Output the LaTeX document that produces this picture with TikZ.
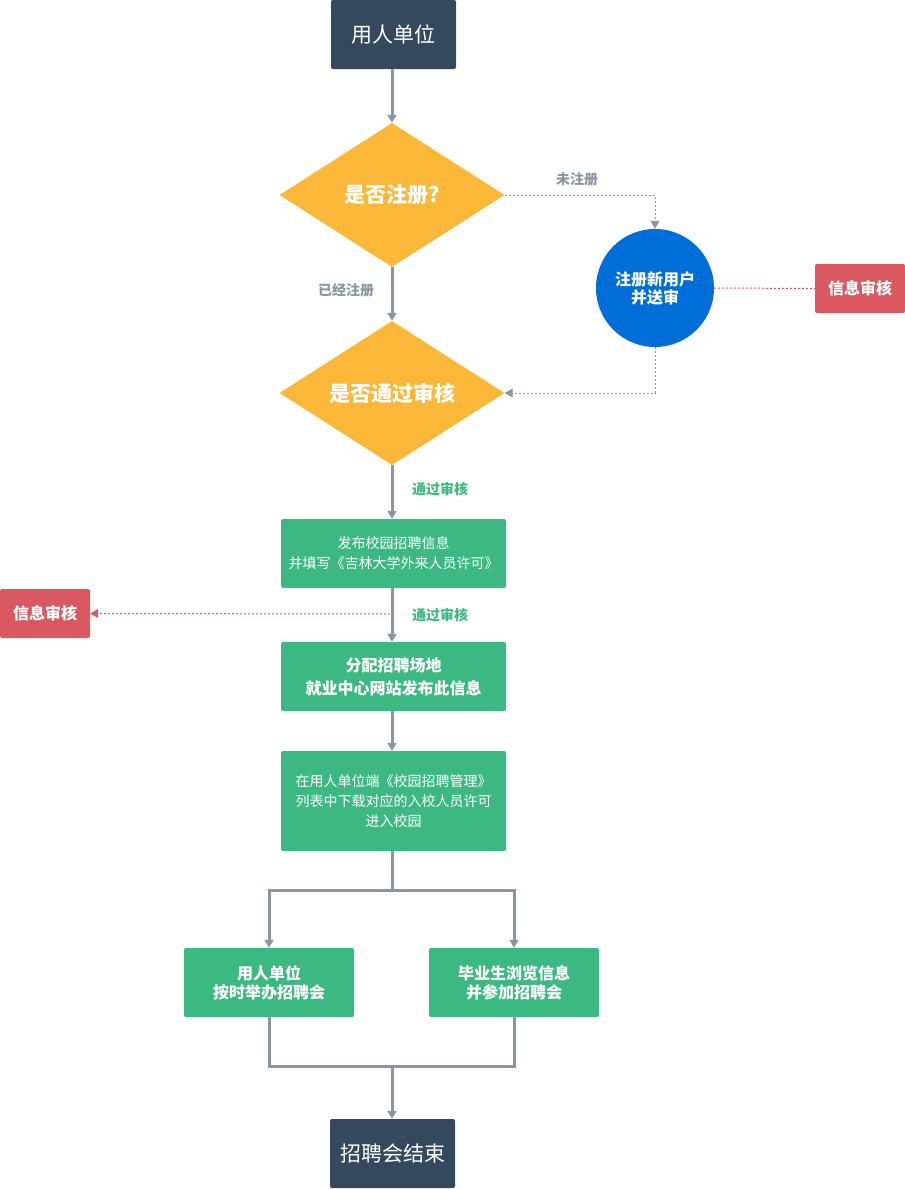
\documentclass[tikz,border=0pt]{standalone}
\usepackage{fontspec}
\setmainfont{Noto Sans CJK SC}
\usetikzlibrary{shapes.geometric,arrows.meta}
\definecolor{navy}{HTML}{34495E}
\definecolor{gold}{HTML}{FBB838}
\definecolor{blueC}{HTML}{006ED8}
\definecolor{greenB}{HTML}{3CB982}
\definecolor{redB}{HTML}{DA5960}
\definecolor{lineG}{HTML}{8897A3}
\tikzset{
  darkbox/.style={fill=navy, text=white, rounded corners=2pt, minimum width=125pt, minimum height=69pt, inner sep=0pt, font=\fontsize{21}{25}\selectfont},
  dia/.style={diamond, fill=gold, text=white, minimum width=225pt, minimum height=144pt, aspect=1.5625, inner sep=0pt, font=\fontsize{21}{25}\selectfont\bfseries},
  gbox/.style={fill=greenB, text=white, rounded corners=2pt, minimum width=225pt, minimum height=69pt, inner sep=0pt, align=center},
  redbox/.style={fill=redB, text=white, rounded corners=2pt, minimum width=90pt, minimum height=49pt, inner sep=0pt, font=\fontsize{16}{19}\selectfont\bfseries},
  mainline/.style={draw=lineG, line width=3pt},
  mainarrow/.style={mainline, -{Triangle[length=8pt,width=9pt]}},
  dotg/.style={draw=lineG, line width=1pt, dash pattern=on 2pt off 2pt, -{Triangle[length=8pt,width=9pt]}},
  dotr/.style={draw=redB, line width=1pt, dash pattern=on 2pt off 2pt},
  lblg/.style={text=lineG, font=\fontsize{14}{16}\selectfont\bfseries, inner sep=0pt},
  lblgreen/.style={text=greenB, font=\fontsize{14}{16}\selectfont\bfseries, inner sep=0pt}
}
\begin{document}
\begin{tikzpicture}[x=1pt,y=-1pt]
\useasboundingbox (0,0) rectangle (905,1189);
\node[darkbox] (start) at (393.5,34.5) {用人单位};
\node[dia] (q1) at (392,195) {是否注册?};
\node[dia] (q2) at (392,393) {是否通过审核};
\node[circle, fill=blueC, text=white, minimum size=118pt, inner sep=0pt, align=center, font=\fontsize{16}{18}\selectfont\bfseries] (reg) at (655,288) {注册新用户\\并送审};
\node[redbox] (red1) at (860,288.5) {信息审核};
\node[redbox] (red2) at (45,613.5) {信息审核};
\node[gbox, font=\fontsize{14}{20}\selectfont] (b3) at (393.5,553.5) {发布校园招聘信息\\并填写《吉林大学外来人员许可》};
\node[gbox, font=\fontsize{16}{23}\selectfont\bfseries] (b4) at (393.5,676.5) {分配招聘场地\\就业中心网站发布此信息};
\node[gbox, minimum height=100pt, font=\fontsize{14}{20}\selectfont] (b5) at (393.5,801) {在用人单位端《校园招聘管理》\\列表中下载对应的入校人员许可\\进入校园};
\node[gbox, minimum width=170pt, font=\fontsize{16}{19}\selectfont\bfseries] (b6) at (269,982.5) {用人单位\\按时举办招聘会};
\node[gbox, minimum width=170pt, font=\fontsize{16}{19}\selectfont\bfseries] (b7) at (514,982.5) {毕业生浏览信息\\并参加招聘会};
\node[darkbox] (end) at (392.5,1153.5) {招聘会结束};
% labels
\node[lblg] (l1) at (577,179) {未注册};
\node[lblg] (l2) at (346,290) {已经注册};
\node[lblgreen] (l3) at (440,489) {通过审核};
\node[lblgreen] (l4) at (440,615) {通过审核};
% coordinates
\coordinate (m) at (390,614);
\coordinate (split) at (392,890);
\coordinate (join) at (392,1066);
% connectors
\draw[mainarrow] (start.south -| q1.north) -- (q1.north);
\draw[mainarrow] (q1.south) -- (q2.north);
\draw[mainarrow] (q2.south) -- (q2.south |- b3.north);
\draw[mainarrow] (q2.south |- b3.south) -- (q2.south |- b4.north);
\draw[mainarrow] (q2.south |- b4.south) -- (q2.south |- b5.north);
\draw[mainline] (q2.south |- b5.south) -- (split);
\draw[mainarrow] (split) -| (b6.north);
\draw[mainarrow] (split) -| (b7.north);
\draw[mainline] (b6.south) |- (join) -| (b7.south);
\draw[mainarrow] (join) -- (end.north -| join);
\draw[dotg] (q1.east) -| (reg.north);
\draw[dotg] (reg.south) |- (q2.east);
\draw[dotr] (reg.east) -- (red1.west);
\draw[dotr, -{Triangle[length=8pt,width=9pt]}] (m) -- (red2.east);
\end{tikzpicture}
\end{document}
